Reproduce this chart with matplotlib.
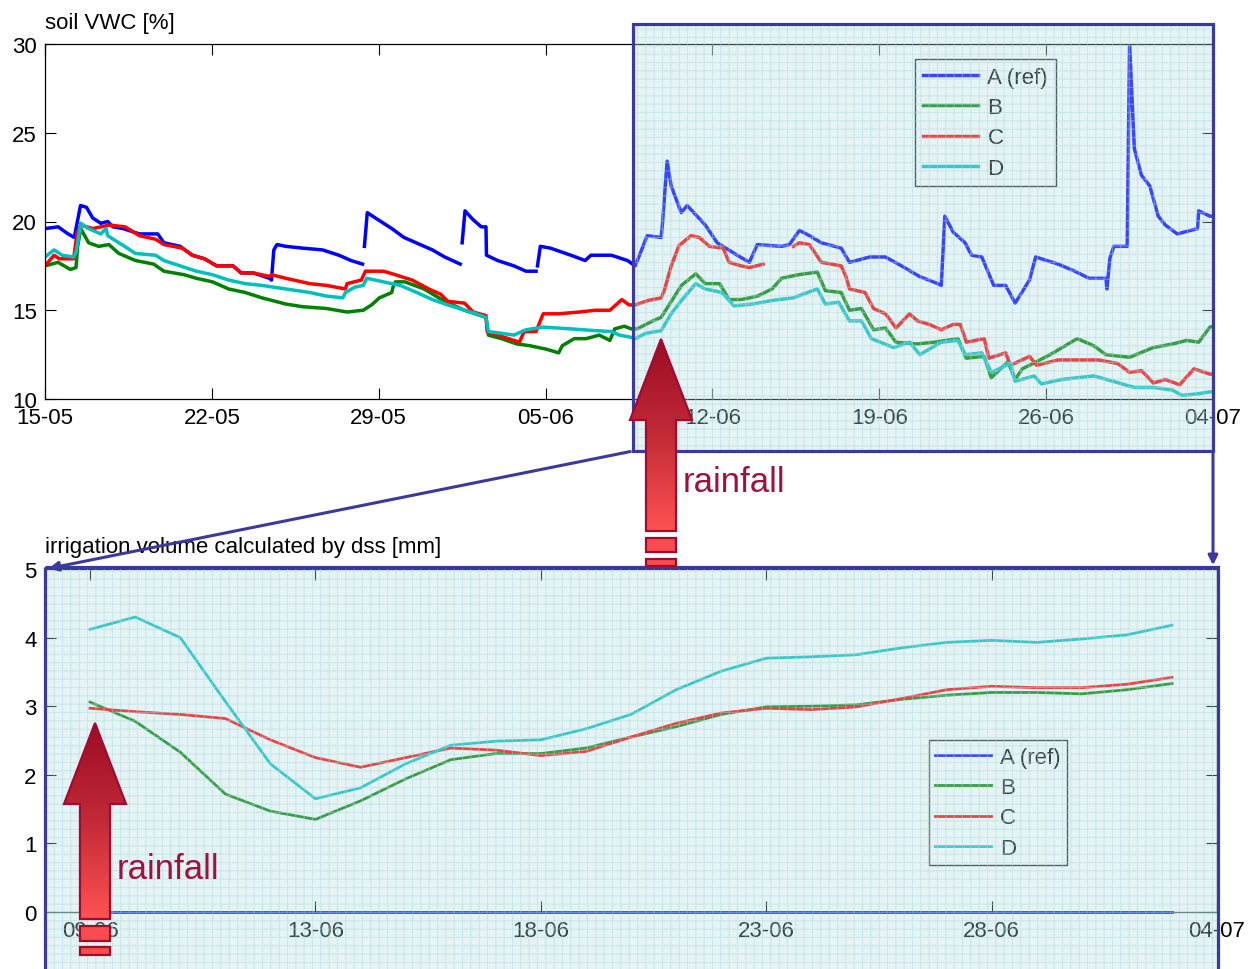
import numpy as np
import matplotlib.pyplot as plt
from matplotlib.patches import Polygon, Rectangle
from matplotlib.colors import LinearSegmentedColormap

plt.rcParams['font.family'] = ['Liberation Sans', 'DejaVu Sans']
plt.rcParams['hatch.linewidth'] = 0.8

nan = np.nan

# ---------------- top panel: soil VWC, days after 15-05 ----------------
top_ticks = [0, 7, 14, 21, 28, 35, 42, 49]
top_labels = ['15-05', '22-05', '29-05', '05-06', '12-06', '19-06', '26-06', '04-07']

a_day = [0, 0.55, 0.97, 1.23, 1.3, 1.49, 1.74, 2.0, 2.34, 2.63, 2.85, 3.28, 3.96, 4.73, 4.99,
         5.67, 6.18, 6.69, 7.2, 7.89, 8.23, 8.74, 9.42, 9.5, 9.6, 9.73, 10.1, 10.8, 11.64, 12.33,
         12.84, 13.32, nan, 13.4, 13.52, 13.86, 14.55, 15.06, 15.74, 16.25, 16.77, 17.42, nan,
         17.5, 17.62, 17.96, 18.3, 18.5, 18.52, 18.99, 19.67, 20.18, 20.6, nan, 20.66, 20.78,
         21.2, 22.06, 22.66, 22.9, 23.76, 24.44, 24.76, 25.0, 25.26, 25.85, 25.9, 26.1, 26.27,
         26.69, 26.94, 27.7, 28.2, 29.04, 29.55, 29.88, 30.9, 31.23, 31.65, 32.07, 32.57, 33.4,
         33.75, 34.6, 35.26, 35.93, 36.69, 37.45, 37.6, 37.75, 38.1, 38.6, 38.87, 39.3, 39.8,
         40.3, 40.7, 41.3, 41.56, 42.5, 43.2, 43.8, 44.5, 44.55, 44.67, 44.84, 45.4, 45.5, 45.7,
         46.0, 46.35, 46.7, 47.0, 47.5, 48.35, 48.4, 48.87, 49]
a_vwc = [19.6, 19.7, 19.3, 19.1, 19.6, 20.9, 20.8, 20.2, 19.9, 20.0, 19.7, 19.6, 19.3, 19.3, 18.8,
         18.6, 18.1, 17.9, 17.5, 17.5, 17.1, 17.1, 16.8, 16.7, 18.4, 18.7, 18.6, 18.5, 18.4, 18.1,
         17.8, 17.6, nan, 18.6, 20.5, 20.2, 19.6, 19.1, 18.7, 18.4, 18.0, 17.6, nan,
         18.8, 20.6, 20.1, 19.7, 19.7, 18.1, 17.8, 17.5, 17.2, 17.2, nan, 17.5, 18.6,
         18.5, 18.1, 17.8, 18.1, 18.1, 17.8, 17.5, 18.3, 19.2, 19.1, 19.8, 23.4, 22.0,
         20.5, 20.9, 19.8, 18.8, 18.1, 17.7, 18.7, 18.6, 18.7, 19.5, 19.2, 18.8, 18.5,
         17.7, 18.0, 18.0, 17.5, 16.9, 16.5, 16.4, 20.3, 19.4, 18.8, 18.1, 18.0, 16.4,
         16.4, 15.4, 16.7, 18.0, 17.6, 17.2, 16.8, 16.8, 16.2, 17.9, 18.6, 18.6, 30.0, 24.1,
         22.6, 22.0, 20.3, 19.8, 19.3, 19.6, 20.6, 20.3, 20.3]

b_day = [0, 0.55, 1.06, 1.3, 1.37, 1.5, 1.83, 2.25, 2.68, 3.1, 3.8, 4.56, 4.99, 5.84, 6.35, 7.03,
         7.7, 8.4, 9.1, 10.1, 10.8, 11.8, 12.67, 13.35, 13.7, 14.03, 14.55, 14.6, 14.7, 15.1,
         15.9, 16.77, 17.6, 18.5, 18.6, 19.15, 19.8, 20.35, 21.05, 21.55, 21.7, 22.2, 22.7,
         23.25, 23.7, 23.9, 24.3, 24.6, 24.84, 25.5, 25.85, 26.18, 26.7, 27.3, 27.7, 28.3, 28.7,
         29.2, 29.9, 30.5, 30.9, 31.6, 32.4, 32.74, 33.4, 33.75, 34.25, 34.76, 35.26, 35.7,
         36.6, 37.3, 38.3, 38.65, 39.4, 39.7, 40.4, 40.7, 41.0, 41.6, 42.3, 43.3, 44.0, 44.5,
         45.5, 46.5, 47.3, 47.9, 48.4, 48.87, 49]
b_vwc = [17.5, 17.7, 17.3, 17.4, 18.6, 19.6, 18.8, 18.6, 18.7, 18.2, 17.8, 17.6, 17.2, 17.0, 16.8,
         16.6, 16.2, 16.0, 15.7, 15.35, 15.2, 15.1, 14.9, 15.0, 15.3, 15.7, 16.0, 16.3, 16.6, 16.6,
         16.2, 15.5, 15.0, 14.6, 13.6, 13.4, 13.1, 13.0, 12.8, 12.6, 13.0, 13.4, 13.4,
         13.6, 13.3, 13.95, 14.1, 13.95, 13.95, 14.4, 14.6, 15.3, 16.4, 17.05, 16.5, 16.5, 15.6,
         15.6, 15.8, 16.2, 16.8, 17.0, 17.15, 16.1, 16.0, 15.0, 15.1, 13.9, 14.0, 13.2,
         13.1, 13.2, 13.4, 12.3, 12.4, 11.2, 12.1, 11.1, 11.7, 12.1, 12.6, 13.4, 13.0, 12.5,
         12.35, 12.9, 13.1, 13.3, 13.2, 14.05, 14.1]

c_day = [0, 0.38, 0.6, 1.2, 1.35, 1.5, 2.0, 2.7, 3.36, 3.96, 4.64, 4.99, 5.75, 6.18, 6.69, 7.2,
         7.89, 8.23, 8.74, 9.42, 9.5, 10.1, 11.1, 11.8, 12.6, 12.67, 13.27, 13.44, 14.2, 14.7,
         15.4, 16.1, 16.6, 16.9, 17.6, 17.96, 18.5, 18.55, 18.99, 19.67, 19.9, 20.1, 20.6, 20.9,
         21.55, 22.4, 23.1, 23.7, 24.2, 24.5, 24.76, 25.3, 25.85, 26.0, 26.27, 26.6, 27.1, 27.45,
         27.87, 28.45, 28.7, 29.2, 29.55, 30.13, nan, 31.4, 31.65, 32.07, 32.57, 33.4, 33.6,
         33.75, 34.4, 34.76, 35.26, 35.7, 36.27, 36.6, 37.1, 37.6, 38.1, 38.4, 38.65, 39.4, 39.6,
         40.3, 40.5, 41.3, 41.6, 42.5, 43.2, 44.2, 45.0, 45.5, 46.0, 46.5, 47.0, 47.6, 48.2,
         48.87, 49]
c_vwc = [17.5, 18.1, 17.9, 17.9, 19.4, 19.8, 19.6, 19.8, 19.7, 19.2, 19.0, 18.7, 18.5, 18.1, 17.9, 17.5,
         17.5, 17.1, 17.1, 16.9, 17.0, 16.8, 16.5, 16.4, 16.2, 16.5, 16.7, 17.2, 17.2, 17.0,
         16.7, 16.2, 15.9, 15.5, 15.4, 14.9, 14.7, 13.8, 13.6, 13.3, 13.2, 13.8, 13.8, 14.8,
         14.8, 14.9, 15.0, 15.0, 15.6, 15.3, 15.3, 15.55, 15.7, 16.2, 17.5, 18.65, 19.2, 19.1,
         18.6, 18.5, 17.7, 17.5, 17.4, 17.6, nan, 18.6, 18.8, 18.7, 17.7, 17.5, 16.9,
         16.2, 16.0, 15.1, 14.8, 14.0, 14.8, 14.4, 14.2, 13.9, 14.2, 14.2, 13.2, 13.4, 12.3,
         12.6, 11.9, 12.4, 11.9, 12.2, 12.2, 12.2, 12.0, 11.5, 11.6, 10.9, 11.1, 10.8, 11.7,
         11.4, 11.4]

d_day = [0, 0.38, 0.72, 1.2, 1.31, 1.5, 1.83, 2.34, 2.56, 2.63, 3.28, 3.79, 4.64, 4.99, 5.67, 6.35,
         7.03, 7.7, 8.4, 9.1, 10.1, 11.1, 11.8, 12.5, 12.6, 13.0, 13.35, 13.5, 14.2, 14.9, 15.6,
         16.25, 16.9, 17.6, 18.1, 18.5, 18.6, 19.15, 19.67, 20.18, 20.9, 22.06, 23.1, 23.76, 24.1,
         24.5, 24.76, 25.2, 25.85, 26.27, 26.7, 27.3, 27.7, 28.4, 28.9, 29.7, 30.5, 31.4, 32.4,
         32.74, 33.3, 33.75, 34.25, 34.67, 35.6, 36.27, 36.7, 37.6, 38.3, 38.6, 39.3, 39.7, 40.5,
         40.7, 41.5, 41.8, 42.65, 44.0, 44.8, 45.7, 46.5, 47.3, 47.7, 48.4, 48.87, 49]
d_vwc = [18.0, 18.4, 18.1, 18.0, 18.3, 19.9, 19.6, 19.3, 19.6, 19.2, 18.65, 18.2, 18.1, 17.8, 17.5, 17.2,
         17.0, 16.7, 16.5, 16.4, 16.2, 16.0, 15.8, 15.7, 16.0, 16.3, 16.4, 16.8, 16.6, 16.4, 16.0,
         15.6, 15.3, 15.0, 14.8, 14.6, 13.8, 13.7, 13.6, 13.9, 14.05, 13.95, 13.85, 13.8, 13.6,
         13.5, 13.4, 13.7, 13.85, 14.8, 15.55, 16.5, 16.2, 16.0, 15.25, 15.35, 15.55, 15.7, 16.2,
         15.35, 15.45, 14.4, 14.4, 13.4, 12.9, 13.2, 12.5, 13.2, 13.3, 12.5, 12.6, 11.5, 12.0,
         11.0, 11.3, 10.85, 11.1, 11.3, 11.0, 10.65, 10.65, 10.5, 10.2, 10.3, 10.4, 10.4]

# ---------------- bottom panel: irrigation volume, days after 09-06 ----------------
bot_ticks = [0, 5, 10, 15, 20, 25]
bot_labels = ['09-06', '13-06', '18-06', '23-06', '28-06', '04-07']
irr_day = list(range(25))
irr_a = [0.0] * 25
irr_b = [3.06, 2.78, 2.33, 1.72, 1.47, 1.35, 1.62, 1.94, 2.22, 2.31, 2.31, 2.39, 2.55, 2.70,
         2.88, 2.99, 3.00, 3.02, 3.10, 3.16, 3.20, 3.20, 3.18, 3.24, 3.33]
irr_c = [2.97, 2.92, 2.88, 2.82, 2.51, 2.25, 2.11, 2.25, 2.39, 2.36, 2.28, 2.34, 2.55, 2.75,
         2.90, 2.97, 2.95, 2.99, 3.11, 3.24, 3.29, 3.27, 3.27, 3.32, 3.42]
irr_d = [4.12, 4.30, 4.00, 3.07, 2.16, 1.65, 1.81, 2.16, 2.43, 2.49, 2.51, 2.67, 2.88, 3.24,
         3.51, 3.70, 3.72, 3.75, 3.85, 3.93, 3.96, 3.93, 3.98, 4.04, 4.18]

names = ['A (ref)', 'B', 'C', 'D']
colors = ['#0000ff', '#008000', '#ff0000', '#00bfbf']

W, H = 1251, 970
fig = plt.figure(figsize=(W / 100, H / 100), dpi=100)


def px_axes(l, t, r, b):
    return fig.add_axes([l / W, 1 - b / H, (r - l) / W, (b - t) / H])


def style(ax):
    ax.tick_params(direction='in', top=True, right=True, length=8, width=0.8,
                   labelsize=16, pad=6, colors='black')
    for s in ax.spines.values():
        s.set_linewidth(0.9)


# top axes
ax1 = px_axes(45, 45, 1213, 400)
for dd, vv, c, n in zip([a_day, b_day, c_day, d_day], [a_vwc, b_vwc, c_vwc, d_vwc], colors, names):
    ax1.plot(dd, vv, color=c, lw=2.5, label=n)
ax1.set_xlim(0, 49)
ax1.set_ylim(10, 30)
ax1.set_xticks(top_ticks)
ax1.set_xticklabels(top_labels)
ax1.set_yticks([10, 15, 20, 25, 30])
style(ax1)
leg1 = ax1.legend(loc='upper left', bbox_to_anchor=(0.745, 0.958), fontsize=16, frameon=True,
                  fancybox=False, framealpha=1, edgecolor='0.15', handlelength=2.5,
                  labelspacing=0.42, borderpad=0.35, handletextpad=0.4, borderaxespad=0)
leg1.get_frame().set_linewidth(1.0)

# bottom axes
ax2 = px_axes(45, 570, 1217, 913)
for vv, c, n in zip([irr_a, irr_b, irr_c, irr_d], colors, names):
    ax2.plot(irr_day, vv, color=c, lw=2.0, label=n, clip_on=False, zorder=3)
ax2.set_xlim(-1, 25)
ax2.set_ylim(0, 5)
ax2.set_xticks(bot_ticks)
ax2.set_xticklabels(bot_labels)
ax2.set_yticks([0, 1, 2, 3, 4, 5])
style(ax2)
leg2 = ax2.legend(loc='upper left', bbox_to_anchor=(0.754, 0.501), fontsize=16, frameon=True,
                  fancybox=False, framealpha=1, edgecolor='0.15', handlelength=2.5,
                  labelspacing=0.42, borderpad=0.3, handletextpad=0.4, borderaxespad=0)
leg2.get_frame().set_linewidth(1.0)

fig.text(45 / W, 1 - 23 / H, 'soil VWC [%]', fontsize=16, va='center', ha='left')
fig.text(45 / W, 1 - 548 / H, 'irrigation volume calculated by dss [mm]', fontsize=16,
         va='center', ha='left')

# overlay: zoom highlight, connectors, rainfall arrows (pixel coordinates)
ov = fig.add_axes([0, 0, 1, 1], zorder=10)
ov.set_xlim(0, W)
ov.set_ylim(H, 0)
ov.axis('off')

frame_col = '#3a3a9e'
for (x0, y0, w, h) in [(633, 25, 580, 427), (45, 568, 1173, 430)]:
    ov.add_patch(Rectangle((x0, y0), w, h, facecolor=(0.70, 0.86, 0.87), alpha=0.32, lw=0, zorder=1))
    ov.add_patch(Rectangle((x0, y0), w, h, facecolor='none', edgecolor=(0.64, 0.86, 0.88),
                           hatch='++', lw=0, alpha=0.45, zorder=2))
    ov.add_patch(Rectangle((x0, y0), w, h, facecolor='none', edgecolor=frame_col, lw=2.3, zorder=6))

ov.annotate('', xy=(46, 570), xytext=(633, 452),
            arrowprops=dict(arrowstyle='-|>', color=frame_col, lw=2.2, mutation_scale=14), zorder=6)
ov.annotate('', xy=(1213, 569), xytext=(1213, 452),
            arrowprops=dict(arrowstyle='-|>', color=frame_col, lw=2.2, mutation_scale=14), zorder=6)

rain_cmap = LinearSegmentedColormap.from_list('rain', ['#9c0c26', '#c22a36', '#ff5252'])
edge_col = '#a00c30'
text_col = '#a0103c'


def rain_arrow(cx, tip, head_base, shaft_bot, caps, text_x, text_y):
    hh, sh = 31, 15
    verts = [(cx, tip), (cx + hh, head_base), (cx + sh, head_base), (cx + sh, shaft_bot),
             (cx - sh, shaft_bot), (cx - sh, head_base), (cx - hh, head_base)]
    poly = Polygon(verts, closed=True, facecolor='none', edgecolor=edge_col, lw=1.6, zorder=8)
    ov.add_patch(poly)
    grad = np.linspace(0, 1, 256)[:, None]
    im = ov.imshow(grad, cmap=rain_cmap, extent=(cx - hh, cx + hh, shaft_bot, tip),
                   aspect='auto', origin='upper', zorder=7)
    im.set_clip_path(poly)
    for (y0, y1) in caps:
        ov.add_patch(Rectangle((cx - sh, y0), 2 * sh, y1 - y0, facecolor='#f84c50',
                               edgecolor=edge_col, lw=1.6, zorder=8))
    ov.text(text_x, text_y, 'rainfall', color=text_col, fontsize=25, va='center', ha='left',
            zorder=9)


rain_arrow(661, 340, 421, 532, [(539, 553), (560, 567)], 683, 483)
rain_arrow(95, 724, 805, 920, [(927, 942), (948, 956)], 117, 870)

ov.set_xlim(0, W)
ov.set_ylim(H, 0)

fig.savefig('out.png', dpi=100)
